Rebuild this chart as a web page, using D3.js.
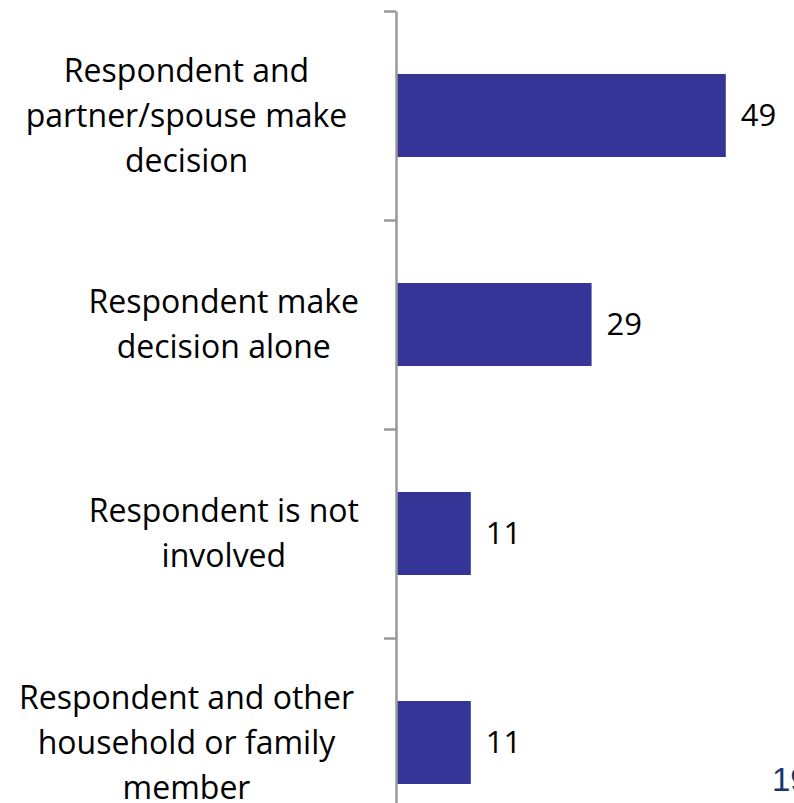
<!DOCTYPE html>
<html>
<head>
<meta charset="utf-8">
<script src="https://cdn.jsdelivr.net/npm/d3@7"></script>
<style>
  html, body { margin: 0; padding: 0; background: #ffffff; }
  svg { display: block; }
</style>
</head>
<body>
<svg id="chart" width="794" height="803"></svg>
<script>
// Who makes the decision (% of respondents)
const categories = [
  "Respondent and partner/spouse make decision",
  "Respondent make decision alone",
  "Respondent is not involved",
  "Respondent and other household or family member"
];
const categoryLines = [
  ["Respondent and", "partner/spouse make", "decision"],
  ["Respondent make", "decision alone"],
  ["Respondent is not", "involved"],
  ["Respondent and other", "household or family", "member"]
];
const values = [49, 29, 11, 11];
const pageNumber = "19";

const svg = d3.select("#chart");

const axisX = 396;
const plotTop = 11, step = 209;

const y = d3.scaleBand()
  .domain(categories)
  .range([plotTop, plotTop + step * categories.length])
  .paddingInner(126 / 209)
  .paddingOuter(63 / 209);

const x = d3.scaleLinear()
  .domain([0, 50])
  .range([axisX + 1, axisX + 1 + 335.5]);

// Bars
svg.append("g")
  .selectAll("rect")
  .data(categories)
  .join("rect")
  .attr("x", x(0))
  .attr("y", d => y(d))
  .attr("width", (d, i) => x(values[i]) - x(0))
  .attr("height", y.bandwidth())
  .attr("fill", "#353598");

// Category axis: ticks sit on the band boundaries
const boundary = d3.scaleLinear()
  .domain([0, categories.length])
  .range([plotTop, plotTop + step * categories.length]);

const axis = svg.append("g")
  .attr("transform", `translate(${axisX},0)`)
  .call(d3.axisLeft(boundary)
    .tickValues(d3.range(categories.length + 1))
    .tickSize(12)
    .tickSizeOuter(0)
    .tickFormat(""));
axis.select(".domain").attr("stroke", "#999999").attr("stroke-width", 2.5);
axis.selectAll(".tick line").attr("stroke", "#999999").attr("stroke-width", 2.5);

// Category labels: lines centred within their block; wide (wrapped) blocks fill
// the label box, narrower blocks sit against the axis.
const lineH = 45;
const boxLeft = 18, boxRight = 359;
svg.append("g")
  .selectAll("text")
  .data(categories)
  .join("text")
  .attr("text-anchor", "middle")
  .attr("font-family", "'Open Sans', sans-serif")
  .attr("font-size", 32)
  .attr("fill", "#000000")
  .each(function(d, i) {
    const lines = categoryLines[i];
    const cy = y(d) + y.bandwidth() / 2;
    const first = cy - (lines.length - 1) * lineH / 2;
    const spans = d3.select(this).selectAll("tspan")
      .data(lines)
      .join("tspan")
      .attr("y", (l, k) => first + k * lineH)
      .attr("dy", "0.35em")
      .text(l => l);
    const w = d3.max(spans.nodes(), n => n.getComputedTextLength());
    const cx = w > 300 ? (boxLeft + boxRight) / 2 - 2 : boxRight - w / 2;
    spans.attr("x", cx);
  });

// Value labels
svg.append("g")
  .selectAll("text")
  .data(categories)
  .join("text")
  .attr("x", (d, i) => x(values[i]) + 15)
  .attr("y", d => y(d) + y.bandwidth() / 2)
  .attr("dy", "0.35em")
  .attr("font-family", "'Open Sans', sans-serif")
  .attr("font-size", 31)
  .attr("fill", "#000000")
  .text((d, i) => values[i]);

// Page number
svg.append("text")
  .attr("x", 772)
  .attr("y", 791)
  .attr("font-family", "'Liberation Sans', Arial, sans-serif")
  .attr("font-size", 33)
  .attr("fill", "#17366e")
  .text(pageNumber);
</script>
</body>
</html>
